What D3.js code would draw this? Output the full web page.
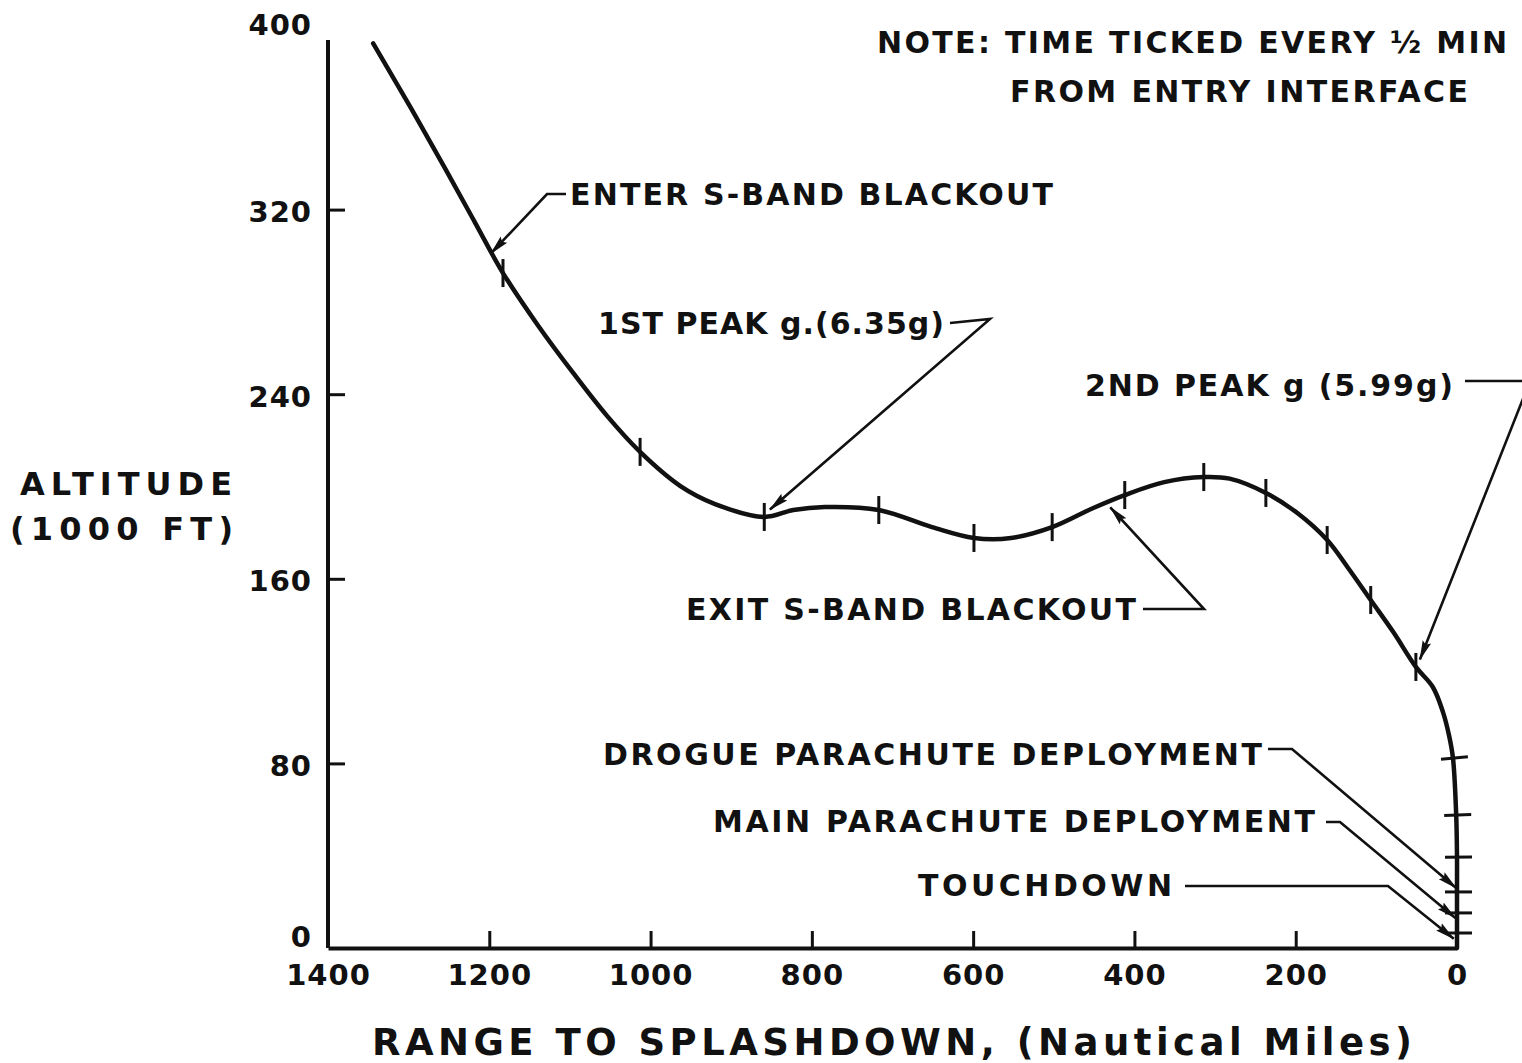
<!DOCTYPE html>
<html>
<head>
<meta charset="utf-8">
<script src="https://cdn.jsdelivr.net/npm/d3@7"></script>
<style>
  html, body { margin: 0; padding: 0; background: #fff; }
  svg { display: block; }
  text { font-family: "DejaVu Sans", Lato, sans-serif; font-weight: 700; fill: #111; }
</style>
</head>
<body>
<svg id="chart" width="1522" height="1063"></svg>
<script>
// Entry trajectory: range to splashdown (n mi) and altitude (1000 ft)
const trajectoryRange = [1344, 1298, 1255, 1218, 1183, 1140, 1096, 1054, 1013, 963, 920,
  859, 823, 784, 717, 651, 599, 553, 502, 451, 412, 363, 314, 282, 237, 198, 161, 135,
  107, 79, 51, 30, 17, 10, 5, 1, 0, 0, 0, 0, 0];
const trajectoryAltitude = [392, 364.5, 338, 314.6, 292.5, 270, 249.2, 230.6, 215, 200.2, 192.4,
  186.8, 189.8, 191.1, 189.8, 182.4, 177.7, 177.7, 182.4, 190.7, 196.3, 201.9, 204.1, 203.4, 197.2, 188.5, 176.8, 164.7,
  150.8, 136.9, 121.8, 113.1, 101.8, 92.3, 82.3, 57.6, 39.4, 24.3, 15.2, 6.5, 0];

// Half-minute time marks from entry interface
const markRange = [1183, 1013, 859, 717, 599, 502, 412, 314, 237, 161, 107, 51, 5, 1, 0, 0, 0, 0];
const markAltitude = [292.5, 215, 186.8, 189.8, 177.7, 182.4, 196.3, 204.1, 197.2, 176.8, 150.8, 121.8, 82.3, 57.6, 39.4, 24.3, 15.2, 6.5];

// Axis ticks
const rangeTicks = [1400, 1200, 1000, 800, 600, 400, 200, 0];
const altitudeTicks = [0, 80, 160, 240, 320, 400];
const altitudeAxisTop = 393.5;

// Marked events and the trajectory point each arrow points at
const eventLabels = ["ENTER S-BAND BLACKOUT", "1ST PEAK g.(6.35g)", "2ND PEAK g (5.99g)",
  "EXIT S-BAND BLACKOUT", "DROGUE PARACHUTE DEPLOYMENT", "MAIN PARACHUTE DEPLOYMENT", "TOUCHDOWN"];
const eventRange = [1198, 852, 46, 430, 1, 2, 4];
const eventAltitude = [301, 190, 125, 191, 26, 13, 4];

const noteLines = ["NOTE: TIME TICKED EVERY \u00BD MIN", "FROM ENTRY INTERFACE"];
const xTitle = "RANGE TO SPLASHDOWN, (Nautical Miles)";
const yTitle = ["ALTITUDE", "(1000 FT)"];

const svg = d3.select("#chart");
const ink = "#111";

const x = d3.scaleLinear().domain([1400, 0]).range([328, 1457]);
const y = d3.scaleLinear().domain([0, 400]).range([948, 25]);

// Arrowhead used by the leader lines
svg.append("defs").append("marker")
  .attr("id", "arrow")
  .attr("viewBox", "0 -6 20 12")
  .attr("refX", 19).attr("refY", 0)
  .attr("markerUnits", "userSpaceOnUse")
  .attr("markerWidth", 20).attr("markerHeight", 12)
  .attr("orient", "auto")
  .append("path")
  .attr("d", "M0,-4.5 L20,0 L0,4.5 L3,0 Z")
  .attr("fill", ink);

// X axis
const xAxis = svg.append("g")
  .attr("transform", `translate(0,${y(0)})`)
  .call(d3.axisBottom(x).tickValues(rangeTicks).tickSize(-17).tickSizeOuter(0)
    .tickPadding(16).tickFormat(d3.format("d")));
xAxis.attr("font-family", null).attr("font-size", null);
xAxis.select(".domain").attr("stroke", ink).attr("stroke-width", 4);
xAxis.selectAll(".tick line").attr("stroke", ink).attr("stroke-width", 3)
  .attr("display", d => (d === 1400 || d === 0) ? "none" : null);
xAxis.selectAll(".tick text")
  .attr("font-size", 29).attr("fill", ink)
  .style("letter-spacing", "1px");

// Y axis
const yAxis = svg.append("g")
  .attr("transform", `translate(${x(1400)},0)`)
  .call(d3.axisLeft(y).tickValues(altitudeTicks).tickSize(-17).tickSizeOuter(0)
    .tickPadding(16).tickFormat(d3.format("d")));
yAxis.attr("font-family", null).attr("font-size", null);
yAxis.select(".domain").remove();
yAxis.selectAll(".tick line").attr("stroke", ink).attr("stroke-width", 3)
  .attr("display", d => (d === 0 || d === 400) ? "none" : null);
yAxis.selectAll(".tick text")
  .attr("font-size", 29).attr("fill", ink)
  .style("letter-spacing", "1px")
  .attr("dy", d => d === 0 ? "-0.05em" : (d === 400 ? "0.34em" : "0.42em"));
yAxis.append("line")
  .attr("x1", 0).attr("x2", 0)
  .attr("y1", y(0)).attr("y2", y(altitudeAxisTop))
  .attr("stroke", ink).attr("stroke-width", 4);

// Trajectory
const pts = trajectoryRange.map((r, i) => [r, trajectoryAltitude[i]]);
const line = d3.line().x(d => x(d[0])).y(d => y(d[1])).curve(d3.curveCatmullRom.alpha(0.5));
svg.append("path")
  .datum(pts)
  .attr("d", line)
  .attr("fill", "none")
  .attr("stroke", ink)
  .attr("stroke-width", 4.5)
  .attr("stroke-linejoin", "round")
  .attr("stroke-linecap", "round");

// Time marks: vertical on the glide, across the curve during the final descent
const marks = markRange.map((r, i) => [r, markAltitude[i]]);
svg.append("g").selectAll("line")
  .data(marks)
  .join("line")
  .each(function (d) {
    const px = x(d[0]), py = y(d[1]);
    let a, b;
    if (d[1] > 100) {
      a = [px, py - 14]; b = [px, py + 14];
    } else {
      // local direction of the curve from the nearest trajectory neighbours
      const k = d3.minIndex(pts, p => Math.hypot(x(p[0]) - px, y(p[1]) - py));
      const i0 = Math.max(0, k - 1), i1 = Math.min(pts.length - 1, k + 1);
      let dx = x(pts[i1][0]) - x(pts[i0][0]), dy = y(pts[i1][1]) - y(pts[i0][1]);
      const len = Math.hypot(dx, dy) || 1;
      dx /= len; dy /= len;
      const nx = dy, ny = -dx; // perpendicular, pointing right
      a = [px - nx * 12, py - ny * 12]; b = [px + nx * 15, py + ny * 15];
    }
    d3.select(this)
      .attr("x1", a[0]).attr("y1", a[1])
      .attr("x2", b[0]).attr("y2", b[1]);
  })
  .attr("stroke", ink)
  .attr("stroke-width", 3);

// Event annotations: label placement and leader bend points
const eventLayout = [
  { tx: 570, ty: 205, len: 483, leader: [[566, 194], [547, 194]] },
  { tx: 598, ty: 334, len: 346, leader: [[950, 323], [990, 319]] },
  { tx: 1085, ty: 396, len: 368, leader: [[1465, 381], [1530, 381]] },
  { tx: 686, ty: 620, len: 450, leader: [[1143, 609], [1204, 609]] },
  { tx: 603, ty: 765, len: 659, leader: [[1268, 749], [1292, 749]] },
  { tx: 713, ty: 832, len: 602, leader: [[1326, 822], [1340, 822]] },
  { tx: 918, ty: 896, len: 254, leader: [[1185, 886], [1388, 886]] }
];

const ann = svg.append("g");
eventLabels.forEach((label, i) => {
  const L = eventLayout[i];
  ann.append("text")
    .attr("x", L.tx).attr("y", L.ty)
    .attr("font-size", 30)
    .attr("textLength", L.len)
    .attr("lengthAdjust", "spacing")
    .text(label);
  const path = L.leader.concat([[x(eventRange[i]), y(eventAltitude[i])]]);
  ann.append("path")
    .attr("d", d3.line()(path))
    .attr("fill", "none")
    .attr("stroke", ink)
    .attr("stroke-width", 2.6)
    .attr("stroke-linejoin", "miter")
    .attr("marker-end", "url(#arrow)");
});

// Note
const noteLayout = [{ tx: 877, ty: 53, len: 630 }, { tx: 1010, ty: 102, len: 458 }];
noteLines.forEach((t, i) => {
  svg.append("text")
    .attr("x", noteLayout[i].tx).attr("y", noteLayout[i].ty)
    .attr("font-size", 30)
    .attr("textLength", noteLayout[i].len)
    .attr("lengthAdjust", "spacing")
    .text(t);
});

// Axis titles
svg.append("text")
  .attr("x", 372).attr("y", 1055)
  .attr("font-size", 37)
  .attr("textLength", 1040)
  .attr("lengthAdjust", "spacing")
  .text(xTitle);

const yTitleLayout = [{ tx: 20, ty: 495, len: 212 }, { tx: 10, ty: 540, len: 223 }];
yTitle.forEach((t, i) => {
  svg.append("text")
    .attr("x", yTitleLayout[i].tx).attr("y", yTitleLayout[i].ty)
    .attr("font-size", 32)
    .attr("textLength", yTitleLayout[i].len)
    .attr("lengthAdjust", "spacing")
    .text(t);
});
</script>
</body>
</html>
